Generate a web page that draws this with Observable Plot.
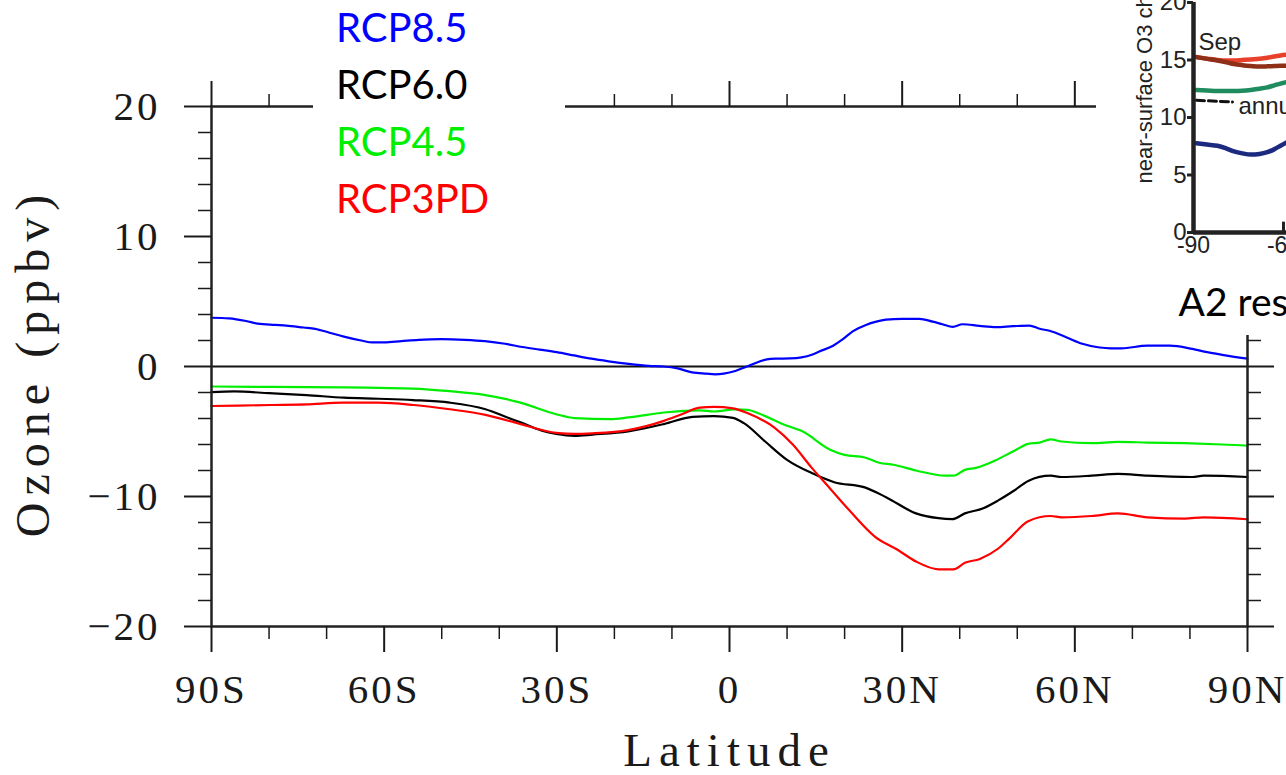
<!DOCTYPE html>
<html><head><meta charset="utf-8">
<script src="https://cdn.jsdelivr.net/npm/d3@7"></script>
<script src="https://cdn.jsdelivr.net/npm/@observablehq/plot@0.6"></script>
<style>
body{margin:0;background:#fff;}
#wrap{position:relative;width:1286px;height:775px;overflow:hidden;background:#fff;}
#legend{position:absolute;left:313px;top:-1px;width:252px;background:#fff;font-family:Lato,sans-serif;font-size:40px;line-height:57px;padding-left:23px;box-sizing:border-box;}
#inset{position:absolute;left:1096px;top:0;width:190px;height:335px;background:#fff;overflow:hidden;}
</style></head>
<body><div id="wrap"><div id="main"></div><div id="legend"></div><div id="inset"></div></div>
<script>
// ---- Main chart data: zonal mean surface ozone change (ppbv) ----
const rcp85Lat = [-90,-87,-84,-82,-79,-77,-74,-72,-69.5,-67,-64,-62,-60,-57,-54,-50,-46,-42.5,-39,-36,-33,-30,-27,-24,-21,-17.5,-14,-11.5,-9,-6.5,-4,-2.5,-1,1,3,5,6.5,8,10.5,12.5,14.3,15.6,18,19.7,21.4,23.7,25.5,27.2,30,33,35.3,37,38.8,40.5,43.4,46.3,49.2,52.1,53.9,55.6,58.5,61.3,64.3,66.2,68.1,72.6,76.5,80.4,83,85.6,90];
const rcp85Val = [3.75,3.7,3.5,3.3,3.2,3.15,3.0,2.9,2.6,2.3,2.0,1.85,1.85,1.95,2.05,2.1,2.05,1.95,1.75,1.5,1.3,1.1,0.85,0.6,0.4,0.2,0.05,0.0,-0.15,-0.45,-0.55,-0.6,-0.55,-0.35,0.0,0.35,0.55,0.6,0.62,0.7,0.9,1.15,1.6,2.1,2.7,3.2,3.45,3.6,3.67,3.67,3.45,3.25,3.05,3.25,3.13,3.03,3.1,3.15,2.9,2.75,2.25,1.75,1.46,1.4,1.4,1.6,1.6,1.35,1.1,0.9,0.6];

const rcp60Lat = [-90,-86,-80,-73.5,-67,-61,-55,-48.6,-42.4,-38.6,-36.3,-32.6,-30.1,-26.9,-23.8,-17.6,-11.4,-6.4,-2.7,0.6,2.5,6.2,10,14.3,18.2,23.5,27.2,32.4,36.3,38.7,40.9,44.1,46.7,49.4,51.9,55.8,57.7,62.9,67.5,72.6,80.4,82.4,90];
const rcp60Val = [-1.97,-1.92,-2.05,-2.2,-2.4,-2.48,-2.58,-2.78,-3.29,-3.92,-4.3,-4.94,-5.19,-5.34,-5.24,-4.99,-4.43,-3.87,-3.82,-3.95,-4.36,-5.77,-7.18,-8.2,-8.9,-9.3,-10.05,-11.3,-11.67,-11.74,-11.3,-10.9,-10.3,-9.56,-8.8,-8.4,-8.5,-8.4,-8.26,-8.4,-8.5,-8.4,-8.5];

const rcp45Lat = [-90,-80,-67,-61,-55,-48.6,-42.4,-36.3,-30.1,-26.9,-20.7,-17.6,-11.4,-5.2,-2.6,1.0,3.2,5,10,12.5,17.5,20,23.5,26,28.5,32.4,37.5,38.9,40.9,42.8,46,49.4,51.9,53.9,55.8,57.7,62.9,67.5,72.6,79.1,85.6,90];
const rcp45Val = [-1.54,-1.57,-1.6,-1.65,-1.7,-1.9,-2.2,-2.78,-3.67,-3.97,-4.05,-3.92,-3.54,-3.37,-3.46,-3.3,-3.33,-3.6,-4.56,-4.95,-6.4,-6.8,-7.0,-7.4,-7.56,-8.0,-8.4,-8.4,-7.95,-7.8,-7.26,-6.5,-5.95,-5.85,-5.6,-5.77,-5.9,-5.8,-5.85,-5.9,-6.0,-6.08];

const rcp3pdLat = [-90,-79.7,-73.5,-67.2,-61,-54.9,-48.6,-42.4,-36.3,-30.1,-26.9,-23.8,-17.6,-11.4,-8.3,-5.2,-2.7,0.6,3.2,7.8,11.0,14.3,17.5,20.7,25.3,29.2,32.4,36.3,38.9,40.9,43.5,46.7,48.7,51.9,55.8,57.7,62.9,67.5,72.6,79.1,82.4,90];
const rcp3pdVal = [-3.04,-2.96,-2.91,-2.78,-2.78,-2.96,-3.29,-3.72,-4.43,-5.11,-5.19,-5.14,-4.89,-4.18,-3.67,-3.16,-3.11,-3.22,-3.6,-4.7,-6.0,-7.8,-9.4,-11.0,-13.1,-14.1,-15.0,-15.6,-15.6,-15.1,-14.8,-14.0,-13.2,-11.9,-11.5,-11.6,-11.5,-11.3,-11.6,-11.7,-11.6,-11.75];

const seriesNames = ["RCP8.5","RCP6.0","RCP4.5","RCP3PD"];
const seriesColors = ["#0000ff","#000000","#00ee00","#ff0000"];

const xMajor = [-90,-60,-30,0,30,60,90];
const xMinor = [-80,-70,-50,-40,-20,-10,10,20,40,50,70,80];
const yMajor = [-20,-10,0,10,20];
const yMinor = [-18,-16,-14,-12,-8,-6,-4,-2,2,4,6,8,12,14,16,18];
const latLabel = d => d === 0 ? "0" : d < 0 ? `${-d}S` : `${d}N`;
const ozLabel = d => d < 0 ? "\u2212" + (-d) : String(d);

// ---- Inset (cropped figure) data ----
const insetLat = [-89,-85.5,-82,-79,-76.5,-73.7,-70.9,-68,-65.4,-63,-61,-59];
const insetRed   = [15.25,15.12,15.0,14.95,14.95,15.0,15.05,15.1,15.2,15.3,15.4,15.45];
const insetBrown = [15.25,15.1,14.96,14.8,14.65,14.55,14.48,14.43,14.45,14.48,14.5,14.5];
const insetGreen = [12.4,12.35,12.3,12.3,12.3,12.33,12.4,12.5,12.62,12.8,12.95,13.07];
const insetNavy  = [7.77,7.65,7.54,7.3,7.05,6.88,6.78,6.83,6.98,7.25,7.54,7.83];
const insetAnnLat = [-89,-77];
const insetAnnVal = [11.5,11.35];
const insetTicksY = [0,5,10,15,20];
const insetTicksX = [-90,-60];

const zipLV = (lat, val) => lat.map((d, i) => ({lat: d, v: val[i]}));

const serif = "Liberation Serif";
const main = Plot.plot({
  width: 1286, height: 775,
  marginLeft: 211, marginRight: 39, marginTop: 106, marginBottom: 149,
  x: {domain: [-90, 90]},
  y: {domain: [-20, 20]},
  style: {fontFamily: serif, color: "#1a1a1a", background: "white", letterSpacing: "3px"},
  marks: [
    Plot.ruleY([0], {stroke: "#111", strokeWidth: 2}),
    Plot.line(zipLV(rcp85Lat, rcp85Val), {x: "lat", y: "v", stroke: seriesColors[0], strokeWidth: 2.2, curve: "monotone-x"}),
    Plot.line(zipLV(rcp45Lat, rcp45Val), {x: "lat", y: "v", stroke: seriesColors[2], strokeWidth: 2.2, curve: "monotone-x"}),
    Plot.line(zipLV(rcp60Lat, rcp60Val), {x: "lat", y: "v", stroke: seriesColors[1], strokeWidth: 2.2, curve: "monotone-x"}),
    Plot.line(zipLV(rcp3pdLat, rcp3pdVal), {x: "lat", y: "v", stroke: seriesColors[3], strokeWidth: 2.2, curve: "monotone-x"}),
    Plot.frame({stroke: "#222", strokeWidth: 2.5}),
    Plot.axisX(xMajor, {anchor: "bottom", tickSize: 26, tickPadding: 21, tickFormat: latLabel, fontSize: 41, strokeWidth: 2, label: null}),
    Plot.axisX(xMinor, {anchor: "bottom", tickSize: 13, tickFormat: () => "", strokeWidth: 1.5, label: null}),
    Plot.axisX(xMajor, {anchor: "top", tickSize: 26, tickFormat: () => "", strokeWidth: 2, label: null}),
    Plot.axisX(xMinor, {anchor: "top", tickSize: 13, tickFormat: () => "", strokeWidth: 1.5, label: null}),
    Plot.axisY(yMajor, {anchor: "left", tickSize: 27, tickPadding: 24, tickFormat: ozLabel, fontSize: 41, strokeWidth: 2, label: null}),
    Plot.axisY(yMinor, {anchor: "left", tickSize: 13, tickFormat: () => "", strokeWidth: 1.5, label: null}),
    Plot.axisY(yMajor, {anchor: "right", tickSize: 26, tickFormat: () => "", strokeWidth: 2, label: null}),
    Plot.axisY(yMinor, {anchor: "right", tickSize: 13, tickFormat: () => "", strokeWidth: 1.5, label: null}),
    Plot.text(["Latitude"], {frameAnchor: "bottom", dy: 139, lineAnchor: "bottom", fontSize: 47}),
    Plot.text(["Ozone (ppbv)"], {frameAnchor: "left", rotate: -90, dx: -163, dy: -4, lineAnchor: "bottom", textAnchor: "middle", fontSize: 48})
  ]
});
d3.select(main).selectAll("text").filter(function(){ return this.textContent === "Latitude" || this.textContent === "Ozone (ppbv)"; }).style("letter-spacing", "7px");
document.getElementById("main").appendChild(main);

// legend text box
const leg = d3.select("#legend");
seriesNames.forEach((n, i) => leg.append("div").style("color", seriesColors[i]).text(n));

// ---- Inset plot ----
const sans = "Liberation Sans";
const inset = Plot.plot({
  width: 190, height: 335,
  marginLeft: 97, marginRight: 0, marginTop: 2, marginBottom: 103,
  x: {domain: [-90, -59]},
  y: {domain: [0, 20]},
  style: {fontFamily: sans, color: "#222", background: "white", overflow: "hidden"},
  marks: [
    Plot.line(zipLV(insetLat, insetNavy), {x: "lat", y: "v", stroke: "#1b2a7e", strokeWidth: 4.5, curve: "monotone-x"}),
    Plot.line(zipLV(insetLat, insetGreen), {x: "lat", y: "v", stroke: "#1e8c5e", strokeWidth: 4.5, curve: "monotone-x"}),
    Plot.line(zipLV(insetLat, insetRed), {x: "lat", y: "v", stroke: "#e8402a", strokeWidth: 4.5, curve: "monotone-x"}),
    Plot.line(zipLV(insetLat, insetBrown), {x: "lat", y: "v", stroke: "#8e2f18", strokeWidth: 4.5, curve: "monotone-x"}),
    Plot.line(zipLV(insetAnnLat, insetAnnVal), {x: "lat", y: "v", stroke: "#111", strokeWidth: 3, strokeDasharray: "8,4"}),
    Plot.ruleX([-90], {stroke: "#222", strokeWidth: 4.5}),
    Plot.ruleY([0], {stroke: "#222", strokeWidth: 4.5}),
    Plot.ruleX([-60], {y1: 0, y2: 0.9, stroke: "#222", strokeWidth: 3}),
    Plot.axisY(insetTicksY, {anchor: "left", tickSize: 6, tickPadding: 1, fontSize: 24, strokeWidth: 3, label: null}),
    Plot.axisX(insetTicksX, {anchor: "bottom", tickSize: 0, tickPadding: 4, fontSize: 23, tickFormat: d => String(d), label: null}),
    Plot.text(["Sep"], {frameAnchor: "top-left", dx: 5, dy: 47, lineAnchor: "bottom", textAnchor: "start", fontSize: 24}),
    Plot.text(["annual"], {frameAnchor: "top-left", dx: 45, dy: 111, lineAnchor: "bottom", textAnchor: "start", fontSize: 24}),
    Plot.text(["near-surface O3 change (ppbv)"], {frameAnchor: "bottom-left", rotate: -90, dx: -42, dy: -49, lineAnchor: "bottom", textAnchor: "start", fontSize: 22}),
    Plot.text(["A2 results"], {frameAnchor: "bottom-left", dx: -15, dy: 83, lineAnchor: "bottom", textAnchor: "start", fontSize: 39, fontFamily: "Lato", fill: "#000"})
  ]
});
document.getElementById("inset").appendChild(inset);
</script>
</body></html>
